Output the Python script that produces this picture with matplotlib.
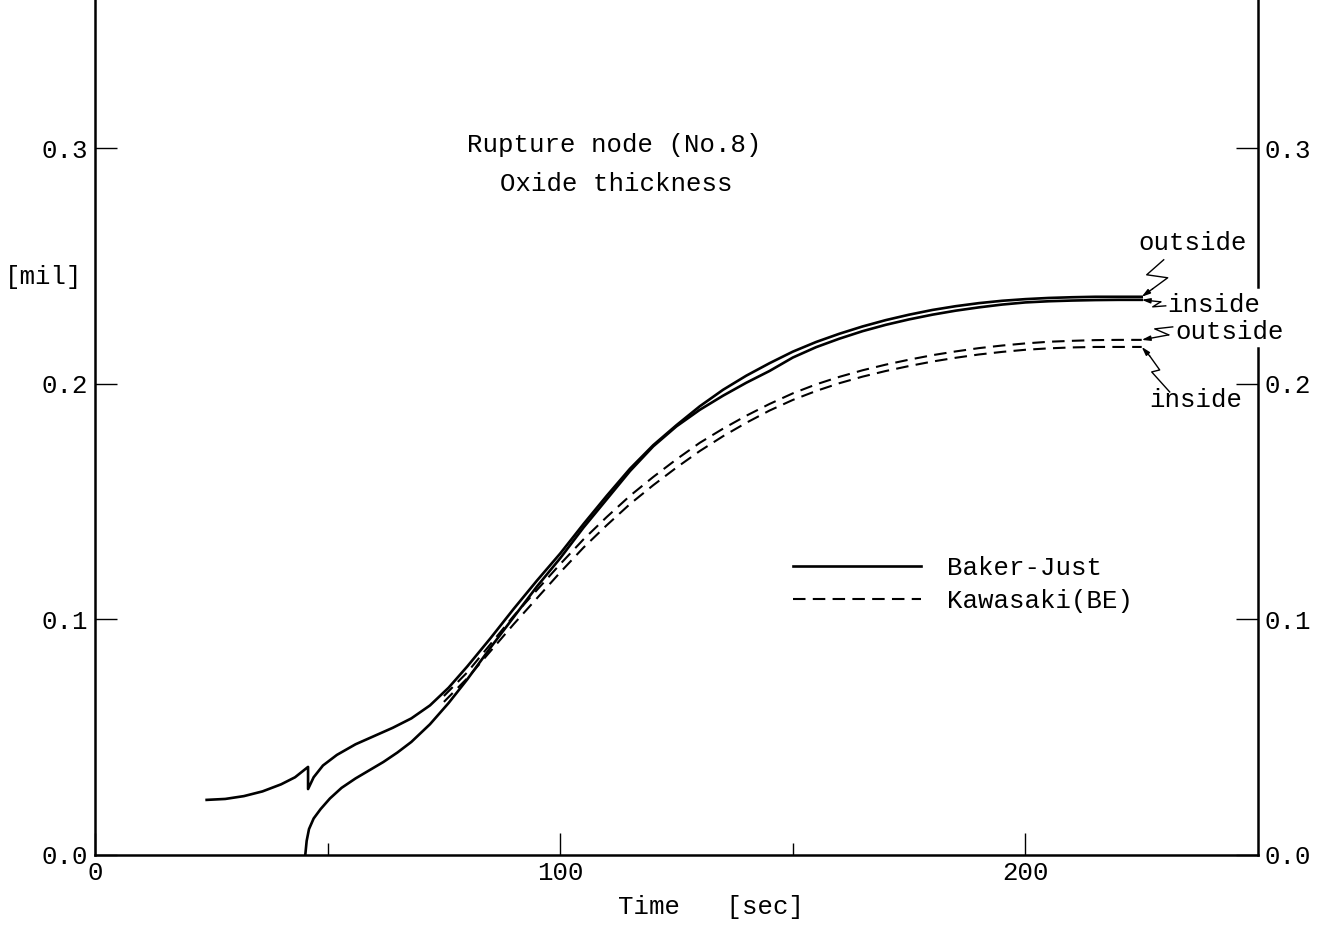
import numpy as np
import matplotlib.pyplot as plt
from matplotlib.lines import Line2D
from matplotlib.transforms import Affine2D, ScaledTranslation

plt.rcParams['font.family'] = ['Liberation Mono', 'DejaVu Sans Mono']

# ---- data ----
# Baker-Just, outside surface (drops at rupture ~45.8 s)
bj_out_t = [24, 28, 32, 36, 40, 43, 45.8, 45.8, 47, 49, 52, 56, 60, 64, 68, 72, 76, 80, 85,
            90, 95, 100, 105, 110, 115, 120, 125, 130, 135, 140, 145, 150, 155, 160, 165,
            170, 175, 180, 185, 190, 195, 200, 205, 210, 215, 220, 225]
bj_out_v = [0.0234, 0.0238, 0.0250, 0.0270, 0.0300, 0.0330, 0.0374, 0.0280, 0.0330, 0.0380,
            0.0425, 0.0470, 0.0505, 0.0540, 0.0580, 0.0635, 0.0710, 0.0800, 0.0920, 0.1045,
            0.1165, 0.1280, 0.1405, 0.1525, 0.1640, 0.1740, 0.1825, 0.1905, 0.1975, 0.2035,
            0.2088, 0.2137, 0.2178, 0.2213, 0.2244, 0.2271, 0.2294, 0.2314, 0.2330, 0.2343,
            0.2353, 0.2360, 0.2365, 0.2368, 0.2370, 0.2370, 0.2370]

# Baker-Just, inside surface (starts at rupture)
bj_in_t = [45.2, 45.5, 46, 47, 48.5, 50.5, 53, 56, 59, 62, 65, 68, 72, 76, 80, 85, 90, 95,
           100, 105, 110, 115, 120, 125, 130, 135, 140, 145, 150, 155, 160, 165, 170, 175,
           180, 185, 190, 195, 200, 205, 210, 215, 220, 225]
bj_in_v = [0.0, 0.006, 0.011, 0.0155, 0.0195, 0.0240, 0.0285, 0.0325, 0.0360, 0.0395, 0.0435,
           0.0480, 0.0555, 0.0645, 0.0745, 0.0880, 0.1010, 0.1140, 0.1260, 0.1390, 0.1510,
           0.1630, 0.1735, 0.1820, 0.1890, 0.1950, 0.2005, 0.2055, 0.2112, 0.2156, 0.2192,
           0.2224, 0.2251, 0.2274, 0.2294, 0.2311, 0.2325, 0.2337, 0.2346, 0.2351, 0.2354,
           0.2356, 0.2357, 0.2357]

# Kawasaki(BE), outside / inside
kw_t = [75, 80, 85, 90, 95, 100, 105, 110, 115, 120, 125, 130, 135, 140, 145, 150, 155, 160,
        165, 170, 175, 180, 185, 190, 195, 200, 205, 210, 215, 220, 225]
kw_out_v = [0.0675, 0.0775, 0.0895, 0.1015, 0.1125, 0.1235, 0.1340, 0.1435, 0.1525, 0.1605,
            0.1680, 0.1750, 0.1810, 0.1865, 0.1915, 0.1960, 0.1998, 0.2030, 0.2058, 0.2082,
            0.2103, 0.2122, 0.2138, 0.2152, 0.2163, 0.2172, 0.2179, 0.2183, 0.2186, 0.2187,
            0.2187]
kw_in_v = [0.0650, 0.0750, 0.0865, 0.0980, 0.1090, 0.1200, 0.1305, 0.1400, 0.1490, 0.1570,
           0.1645, 0.1715, 0.1778, 0.1835, 0.1887, 0.1932, 0.1970, 0.2003, 0.2031, 0.2055,
           0.2076, 0.2095, 0.2111, 0.2125, 0.2136, 0.2145, 0.2151, 0.2155, 0.2157, 0.2157,
           0.2157]

x_ticks = [0, 100, 200]
y_ticks = [0.0, 0.1, 0.2, 0.3]
y_ticklabels = ["0.0", "0.1", "0.2", "0.3"]

FS = 18.5

fig = plt.figure(figsize=(13.24, 9.25), dpi=100)
ax = fig.add_axes([95 / 1324, 70 / 925, (1258 - 95) / 1324, 855 / 925])

solid = dict(color="black", lw=1.9, solid_joinstyle="round")
dashed = dict(color="black", lw=1.5, linestyle=(0, (6, 3.5)))

ax.plot(bj_out_t, bj_out_v, **solid)
ax.plot(bj_in_t, bj_in_v, **solid)
ax.plot(kw_t, kw_out_v, **dashed)
ax.plot(kw_t, kw_in_v, **dashed)

ax.set_xlim(0, 250)
ax.set_ylim(0, 0.363)

# spines (right one is broken where the labels sit)
ax.spines["top"].set_visible(False)
for s in ["left", "bottom", "right"]:
    ax.spines[s].set_linewidth(1.8)
ax.spines["right"].set_bounds(0, 0.2153)
ax.plot([250, 250], [0.2412, 0.363], color="black", lw=1.8, clip_on=False)

ax.set_xticks(x_ticks)
ax.set_xticks([50, 150], minor=True)
ax.set_yticks(y_ticks)
ax.set_yticklabels(y_ticklabels)
ax.tick_params(axis="x", which="major", direction="in", length=16, width=1.0,
               labelsize=FS, pad=4)
ax.tick_params(axis="x", which="minor", direction="in", length=9, width=1.0)
ax.tick_params(axis="y", which="major", direction="in", length=16, width=1.0,
               labelsize=FS, pad=5, right=True, labelright=True)

# axis labels
fig.text(5 / 1324, 1 - 277 / 925, "[mil]", fontsize=FS, ha="left", va="center")
fig.text(711 / 1324, 1 - 907 / 925, "Time   [sec]", fontsize=FS, ha="center", va="center")

# titles inside plot
ax.text(80, 0.3015, "Rupture node (No.8)", fontsize=FS, ha="left", va="center")
ax.text(87, 0.285, "Oxide thickness", fontsize=FS, ha="left", va="center")

# legend
handles = [Line2D([], [], **solid), Line2D([], [], **dashed)]
ax.legend(handles, ["Baker-Just", "Kawasaki(BE)"], loc="upper left",
          bbox_to_anchor=(793 / 1324, 1 - 556 / 925), bbox_transform=fig.transFigure,
          frameon=False, fontsize=FS, handlelength=5.0, handletextpad=1.0,
          labelspacing=0.35, borderpad=0, borderaxespad=0)


# curve-end labels with small zigzag leaders (offsets in pixels from the tip)
def zigzag_label(tip, text, text_xy, offsets):
    px = 72.0 / fig.dpi
    tr = Affine2D().scale(fig.dpi / 72.0) + ScaledTranslation(tip[0], tip[1], ax.transData)
    pts = [(dx * px, dy * px) for dx, dy in offsets]
    xs, ys = zip(*pts[:-1])
    ax.add_line(Line2D(xs, ys, transform=tr, color="black", lw=1.0, clip_on=False))
    ax.annotate("", xy=tip, xytext=pts[-2], textcoords=tr,
                arrowprops=dict(arrowstyle="-|>,head_length=0.5,head_width=0.15",
                                color="black", lw=1.0, shrinkA=0, shrinkB=0),
                annotation_clip=False)
    ax.text(text_xy[0], text_xy[1], text, fontsize=FS, ha="center", va="center",
            clip_on=False)


zigzag_label((bj_out_t[-1], bj_out_v[-1]), "outside", (236, 0.2599),
             [(22, 37), (5, 22), (26, 19), (11, 8), (0, 0)])
zigzag_label((bj_in_t[-1], bj_in_v[-1]), "inside", (240.4, 0.2335),
             [(24, -6), (11, -7), (19, -2), (0, 0)])
zigzag_label((kw_t[-1], kw_out_v[-1]), "outside", (244, 0.222),
             [(31, 13), (13, 11), (27, 5), (0, 0)])
zigzag_label((kw_t[-1], kw_in_v[-1]), "inside", (236.6, 0.1932),
             [(28, -45), (10, -25), (18, -23), (8, -9), (0, 0)])

fig.savefig("out.png", dpi=100)
